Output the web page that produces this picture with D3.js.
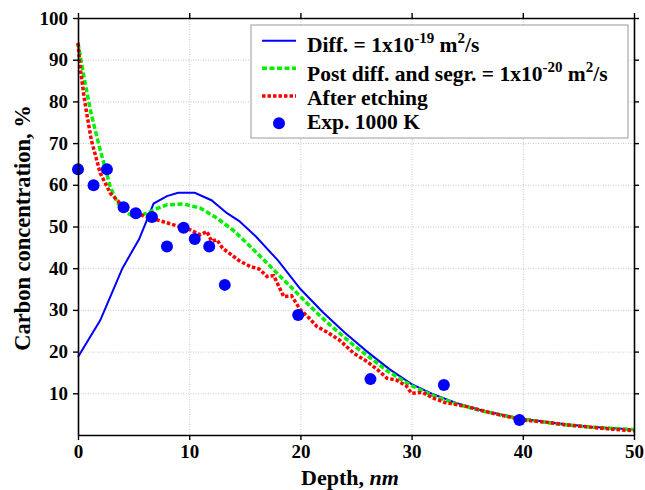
<!DOCTYPE html>
<html>
<head>
<meta charset="utf-8">
<script src="https://cdn.jsdelivr.net/npm/d3@7"></script>
<style>
  body { margin: 0; background: #fff; }
  svg text { font-family: "Liberation Serif", "Times New Roman", serif; font-weight: bold; }
  .grid line { stroke: #c8c8c8; stroke-dasharray: 1,1.5; }
  .grid .domain { display: none; }
</style>
</head>
<body>
<div class="js-chart"></div>
<script>
'use strict';

// diffusion model, D = 1e-19 m2/s
const diffX = [0, 2, 4, 5.5, 6.8, 8, 9, 10.5, 12, 13.4, 14.5, 16, 18, 20, 22, 24, 26, 28, 30, 32, 34, 36, 38, 40, 43, 46, 50];
const diffY = [18.7, 27.5, 40, 47, 55.5, 57.3, 58.1, 58.1, 56.3, 53.2, 51.3, 47.6, 41.8, 35, 29.5, 24.5, 20, 15.8, 12.2, 9.7, 7.7, 6.1, 4.9, 3.9, 2.8, 2.0, 1.3];

// post diffusion and segregation, D = 1e-20 m2/s
const segrX = [0, 0.2, 0.6, 1.1, 1.6, 2, 2.5, 2.9, 3.4, 3.8, 4.4, 5, 5.6, 6.2, 7, 8, 9.5, 11, 12.5, 14, 15.5, 17, 18.5, 20, 21.8, 22.7, 24.8, 27.8, 30, 32, 34, 36, 38, 40, 43, 46, 50];
const segrY = [94, 91, 85, 78, 72.5, 68.3, 63.5, 59.5, 56.5, 54.7, 53.2, 52.5, 52.6, 53.2, 54.2, 55.2, 55.4, 54.4, 52, 49, 45.2, 41.2, 37.2, 33.2, 28.5, 26.3, 21.5, 15.4, 11.8, 9.4, 7.5, 6, 4.8, 3.8, 2.7, 1.9, 1.3];

// after etching
const etchX = [0, 0.2, 0.6, 1.2, 2, 2.9, 4.1, 5.6, 7.1, 8.6, 10.1, 11, 11.6, 12, 12.5, 13, 14, 14.5, 15.5, 16.3, 17, 17.6, 18.5, 19.2, 20, 20.8, 21.5, 22.5, 23.5, 24.8, 26, 27, 27.8, 28.6, 29.5, 30, 31, 32, 33, 35, 37, 40, 42, 44, 46, 48, 50];
const etchY = [94, 88, 80, 70.7, 62.8, 58, 54.7, 52.8, 51.6, 50.4, 49.2, 48, 48.8, 46.5, 46.8, 44.8, 42.8, 41.8, 40.4, 39.8, 38, 38.2, 33.2, 33.4, 30, 28, 26, 24.5, 22.8, 19.6, 17.6, 15.5, 13.6, 13.2, 11.8, 10, 10.2, 8.8, 7.8, 6.8, 5.4, 3.6, 3.1, 2.4, 1.9, 1.4, 1.0];

// experiment, 1000 K
const expX = [0, 1.4, 2.6, 4.1, 5.2, 6.65, 8.0, 9.5, 10.5, 11.8, 13.2, 19.8, 26.3, 32.9, 39.7];
const expY = [63.7, 59.9, 63.7, 54.6, 53.2, 52.3, 45.2, 49.7, 47, 45.2, 36, 28.8, 13.4, 12, 3.6];

const xTicks = [0, 10, 20, 30, 40, 50];
const yTicks = [10, 20, 30, 40, 50, 60, 70, 80, 90, 100];

const margin = { top: 18, right: 11, bottom: 55, left: 78 };
const width = 645, height = 490;
const graphWidth = width - margin.left - margin.right;
const graphHeight = height - margin.top - margin.bottom;

const svg = d3.select('.js-chart')
    .append('svg')
    .attr('width', width)
    .attr('height', height);

const graph = svg.append('g')
    .attr('transform', `translate(${margin.left}, ${margin.top})`);

// scales
const x = d3.scaleLinear().domain([0, 50]).range([0, graphWidth]);
const y = d3.scaleLinear().domain([0, 100]).range([graphHeight, 0]);

// grid
graph.append('g').attr('class', 'grid')
    .attr('transform', `translate(0, ${graphHeight})`)
    .call(d3.axisBottom(x).tickValues(xTicks.slice(1, -1)).tickSize(-graphHeight).tickFormat(''));
graph.append('g').attr('class', 'grid')
    .call(d3.axisLeft(y).tickValues(yTicks.slice(0, -1)).tickSize(-graphWidth).tickFormat(''));

// lines
const line = d3.line().x(d => x(d[0])).y(d => y(d[1]));

graph.append('path')
    .datum(diffX.map((v, i) => [v, diffY[i]]))
    .attr('d', line)
    .attr('fill', 'none')
    .attr('stroke', '#0000ff')
    .attr('stroke-width', 2);

graph.append('path')
    .datum(segrX.map((v, i) => [v, segrY[i]]))
    .attr('d', line)
    .attr('fill', 'none')
    .attr('stroke', '#00f000')
    .attr('stroke-width', 3.5)
    .attr('stroke-dasharray', '5,2.5');

graph.append('path')
    .datum(etchX.map((v, i) => [v, etchY[i]]))
    .attr('d', line)
    .attr('fill', 'none')
    .attr('stroke', '#ff0000')
    .attr('stroke-width', 3.5)
    .attr('stroke-dasharray', '3.5,2');

graph.selectAll('circle.exp')
    .data(expX.map((v, i) => [v, expY[i]]))
    .enter()
    .append('circle')
    .attr('class', 'exp')
    .attr('cx', d => x(d[0]))
    .attr('cy', d => y(d[1]))
    .attr('r', 6)
    .attr('fill', '#0000ff');

// axes
const styleAxis = g => {
    g.select('.domain').attr('stroke', '#000').attr('stroke-width', 1.6);
    g.selectAll('.tick line').attr('stroke', '#000').attr('stroke-width', 1.4);
    g.selectAll('text').attr('font-size', 19).attr('fill', '#000')
        .style('font-family', '"Liberation Serif", serif').style('font-weight', 'bold');
};

graph.append('g')
    .attr('transform', `translate(0, ${graphHeight})`)
    .call(d3.axisBottom(x).tickValues(xTicks).tickSize(5).tickSizeOuter(0).tickPadding(5))
    .call(styleAxis);

graph.append('g')
    .call(d3.axisLeft(y).tickValues(yTicks).tickSize(5).tickSizeOuter(0).tickPadding(5))
    .call(styleAxis);

graph.append('g')
    .call(d3.axisTop(x).tickValues(xTicks).tickSize(5).tickSizeOuter(0).tickFormat(''))
    .call(styleAxis);

graph.append('g')
    .attr('transform', `translate(${graphWidth}, 0)`)
    .call(d3.axisRight(y).tickValues(yTicks).tickSize(5).tickSizeOuter(0).tickFormat(''))
    .call(styleAxis);

// axis labels
const xLabel = svg.append('text')
    .attr('x', 350)
    .attr('y', 485)
    .attr('text-anchor', 'middle')
    .attr('font-size', 22);
xLabel.append('tspan').text('Depth, ');
xLabel.append('tspan').attr('font-style', 'italic').text('nm');

svg.append('text')
    .attr('transform', `translate(30, 228) rotate(-90)`)
    .attr('text-anchor', 'middle')
    .attr('font-size', 22.5)
    .text('Carbon concentration, %');

// legend
const legend = graph.append('g')
    .attr('transform', `translate(${251 - margin.left}, ${25 - margin.top})`);

legend.append('rect')
    .attr('width', 377)
    .attr('height', 113)
    .attr('fill', '#fff')
    .attr('stroke', '#999')
    .attr('stroke-width', 1);

const rows = [
    { parts: [['Diff. = 1x10', 0], ['-19', 1], [' m', 0], ['2', 1], ['/s', 0]], stroke: '#0000ff', w: 2, dash: null, my: 15.7, ty: 27.3 },
    { parts: [['Post diff. and segr. = 1x10', 0], ['-20', 1], [' m', 0], ['2', 1], ['/s', 0]], stroke: '#00f000', w: 3.5, dash: '5,2.5', my: 43.3, ty: 56 },
    { parts: [['After etching', 0]], stroke: '#ff0000', w: 3.5, dash: '3.5,2', my: 71, ty: 80 },
    { parts: [['Exp. 1000 K', 0]], dot: true, my: 98.3, ty: 104 }
];

rows.forEach(r => {
    if (r.dot) {
        legend.append('circle').attr('cx', 28).attr('cy', r.my).attr('r', 6).attr('fill', '#0000ff');
    } else {
        legend.append('line')
            .attr('x1', 11).attr('x2', 45).attr('y1', r.my).attr('y2', r.my)
            .attr('stroke', r.stroke).attr('stroke-width', r.w)
            .attr('stroke-dasharray', r.dash);
    }
    const t = legend.append('text')
        .attr('x', 56)
        .attr('y', r.ty)
        .attr('font-size', 21.5);
    let shift = 0;
    r.parts.forEach(p => {
        const span = t.append('tspan').text(p[0]);
        if (p[1]) {
            span.attr('font-size', 15).attr('dy', -9 - shift);
            shift = -9;
        } else {
            span.attr('dy', -shift);
            shift = 0;
        }
    });
});
</script>
</body>
</html>
